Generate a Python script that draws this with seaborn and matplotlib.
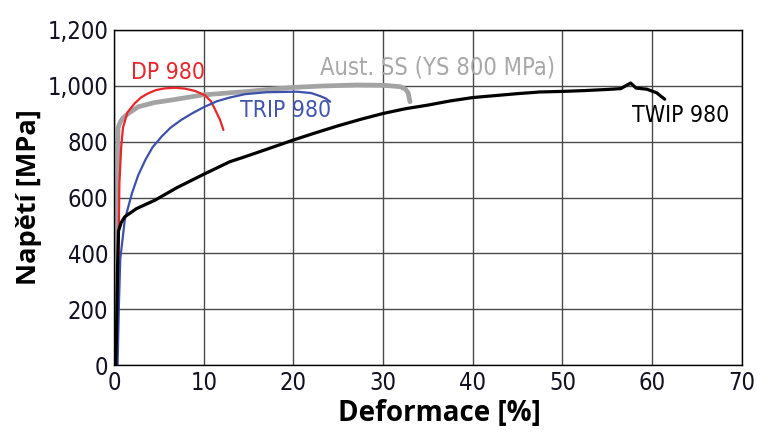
import numpy as np
import pandas as pd
import seaborn as sns
import matplotlib.pyplot as plt

# strain [%] / stress [MPa]
dp_strain = [0.3, 0.5, 0.6, 0.8, 1.0, 1.5, 2.3, 3.0, 3.8, 4.7, 5.7, 6.8, 7.9, 9.0, 10.1, 10.8, 11.3, 11.8, 12.2]
dp_stress = [0, 400, 650, 780, 850, 905, 937, 958, 973, 985, 991, 993, 990, 982, 967, 945, 913, 880, 842]

ss_strain = [0.2, 0.35, 0.45, 0.7, 1.0, 1.6, 2.7, 4.5, 6.4, 9.8, 12.9, 15, 17.5, 20.4, 23, 27, 30, 31.9, 32.5, 32.8, 33.0]
ss_stress = [0, 500, 850, 870, 885, 901, 925, 940, 949, 967, 975, 980, 988, 995, 999, 1003, 1002, 997, 988, 974, 943]

trip_strain = [0.4, 0.55, 0.7, 1.2, 2.0, 2.7, 3.5, 4.3, 5.3, 6.3, 7.5, 8.8, 10.1, 11.5, 12.9, 14.6, 17, 20.4, 22, 23, 23.6, 24.1]
trip_stress = [0, 220, 380, 520, 615, 680, 735, 780, 818, 850, 878, 903, 925, 945, 958, 970, 977, 979, 974, 963, 955, 943]

twip_strain = [0.2, 0.3, 0.4, 0.5, 0.8, 1.2, 2.5, 4.6, 7.0, 9.8, 12.9, 14.6, 17.5, 20, 22.5, 25, 27.5, 30, 32.5, 35,
               37.5, 40, 42.5, 45, 47.5, 50, 52.5, 55, 56.5, 57.6, 58.2, 59.4, 60.5, 61.4]
twip_stress = [0, 150, 350, 480, 510, 531, 560, 591, 635, 680, 728, 746, 778, 806, 832, 857, 880, 901, 918, 931,
               946, 958, 965, 972, 978, 980, 983, 987, 990, 1010, 992, 988, 975, 952]

y_ticks = [0, 200, 400, 600, 800, 1000, 1200]
x_ticks = [0, 10, 20, 30, 40, 50, 60, 70]

sns.set_style("white")
plt.rcParams["font.family"] = ["DejaVu Sans"]
plt.rcParams["font.stretch"] = "condensed"

fig = plt.figure(figsize=(7.57, 4.32), dpi=100)
ax = fig.add_axes([0.1506, 0.155, 0.8294, 0.7756])

# draw order: grey underneath, then red, blue, black
sns.lineplot(x=ss_strain, y=ss_stress, sort=False, estimator=None, color="#a3a3a3", lw=3.4, ax=ax)
sns.lineplot(x=dp_strain, y=dp_stress, sort=False, estimator=None, color="#e8262b", lw=1.6, ax=ax)
sns.lineplot(x=trip_strain, y=trip_stress, sort=False, estimator=None, color="#3d50aa", lw=1.6, ax=ax)
sns.lineplot(x=twip_strain, y=twip_stress, sort=False, estimator=None, color="black", lw=2.3, ax=ax)

ax.set_xlim(0, 70)
ax.set_ylim(0, 1200)
ax.set_xticks(x_ticks)
ax.set_yticks(y_ticks)
ax.set_yticklabels([f"{v:,}" for v in y_ticks])
ax.tick_params(labelsize=17, length=0, pad=4, colors="#111122")
ax.grid(True, color="#4a4a4a", lw=1.0)
for s in ax.spines.values():
    s.set_color("black")
    s.set_linewidth(1.0)

ax.text(1.9, 1046, "DP 980", color="#e8262b", fontsize=16.5, va="center")
ax.text(23.0, 1064, "Aust. SS (YS 800 MPa)", color="#a8a8a8", fontsize=17, va="center")
ax.text(14.0, 913, "TRIP 980", color="#4256b0", fontsize=16.5, va="center")
ax.text(57.7, 892, "TWIP 980", color="black", fontsize=16.5, va="center")

ax.set_xlabel("Deformace [%]", fontsize=20, fontweight="bold", family="Open Sans",
              fontstretch="normal", labelpad=3, color="black")
ax.set_ylabel("Napětí [MPa]", fontsize=19.5, fontweight="bold", family="Open Sans",
              fontstretch="normal", labelpad=4, color="black")
ax.xaxis.label.set_x(0.518)

fig.savefig("out.png", dpi=100)
